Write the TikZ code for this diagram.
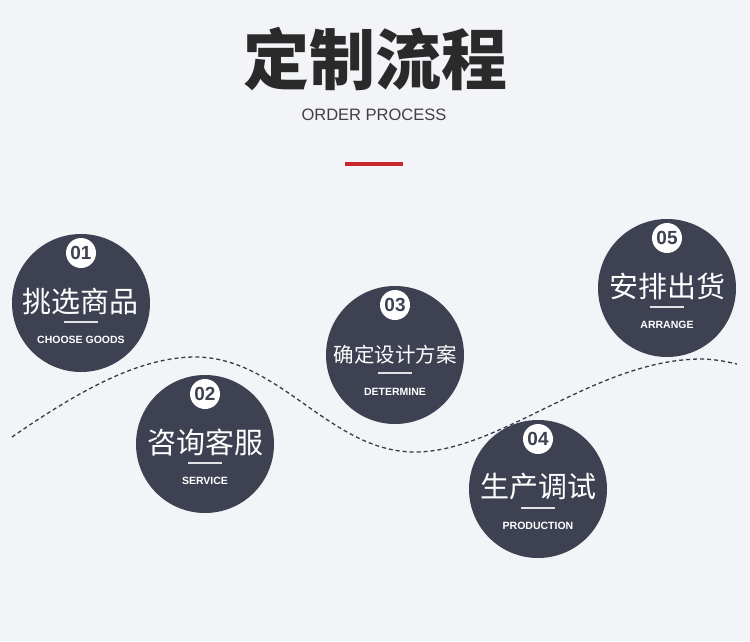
\documentclass[tikz,border=0pt]{standalone}
\usepackage{fontspec}
\setmainfont{Liberation Sans}
\newfontfamily\cjk{Noto Sans CJK SC}
\usepackage{tikz}
\usetikzlibrary{calc}
\definecolor{paper}{HTML}{F3F4F7}
\definecolor{slate}{HTML}{3D4152}
\definecolor{ink}{HTML}{2A2A2A}
\definecolor{accent}{HTML}{C8282B}
\tikzset{disc/.style={circle,fill=slate,minimum size=138pt,inner sep=0pt}}
\tikzset{badge/.style={circle,fill=white,text=slate,minimum size=30pt,inner sep=0pt,font=\fontsize{19}{19}\selectfont\bfseries}}
\tikzset{zh/.style={text=white,inner sep=0pt,font=\cjk\fontsize{29}{29}\selectfont}}
\tikzset{zhs/.style={text=white,inner sep=0pt,font=\cjk\fontsize{20.5}{20.5}\selectfont}}
\tikzset{en/.style={text=white,inner sep=0pt,font=\fontsize{10.5}{10.5}\selectfont\bfseries}}
\tikzset{rule/.style={draw=white!85!slate,line width=1.2pt}}
\tikzset{trail/.style={draw=slate!90!black,line width=1.3pt,dash pattern=on 4pt off 3pt}}

\begin{document}
\begin{tikzpicture}[x=1pt,y=-1pt]
          \useasboundingbox (0,0) rectangle (750,641);
          \fill[paper] (0,0) rectangle (750,641);
          % heading
          \node[inner sep=0pt,text=ink,font=\cjk\bfseries\fontsize{66}{66}\selectfont] (title) at (375,59) {定制流程};
          \node[inner sep=0pt,text=ink!90,font=\fontsize{16.5}{16.5}\selectfont] (sub) at (374,115) {ORDER PROCESS};
          \fill[accent] (345,162) rectangle (403,166);
          % dashed path behind the steps
          \draw[trail] (12,437) .. controls (80,390) and (140,357) .. (195,357)
            .. controls (280,357) and (330,452) .. (415,452)
            .. controls (500,452) and (595,360) .. (700,359)
            .. controls (715,359) and (728,362) .. (737,364);
          % steps
          \node[disc] (c1) at (81,303) {};
          \node[badge] (n1) at ($(c1)+(0,-50)$) {01};
          \node[zh] (t1) at ($(c1)+(0,-2)$) {挑选商品};
          \draw[rule] ($(c1)+(-17,19)$) -- ($(c1)+(17,19)$);
          \node[en] (e1) at ($(c1)+(0,37)$) {CHOOSE GOODS};
          \node[disc] (c2) at (205,444) {};
          \node[badge] (n2) at ($(c2)+(0,-50)$) {02};
          \node[zh] (t2) at ($(c2)+(0,-2)$) {咨询客服};
          \draw[rule] ($(c2)+(-17,19)$) -- ($(c2)+(17,19)$);
          \node[en] (e2) at ($(c2)+(0,37)$) {SERVICE};
          \node[disc] (c3) at (395,355) {};
          \node[badge] (n3) at ($(c3)+(0,-50)$) {03};
          \node[zhs] (t3) at ($(c3)+(0,0)$) {确定设计方案};
          \draw[rule] ($(c3)+(-17,18)$) -- ($(c3)+(17,18)$);
          \node[en] (e3) at ($(c3)+(0,37)$) {DETERMINE};
          \node[disc] (c4) at (538,489) {};
          \node[badge] (n4) at ($(c4)+(0,-50)$) {04};
          \node[zh] (t4) at ($(c4)+(0,-2)$) {生产调试};
          \draw[rule] ($(c4)+(-17,19)$) -- ($(c4)+(17,19)$);
          \node[en] (e4) at ($(c4)+(0,37)$) {PRODUCTION};
          \node[disc] (c5) at (667,288) {};
          \node[badge] (n5) at ($(c5)+(0,-50)$) {05};
          \node[zh] (t5) at ($(c5)+(0,-2)$) {安排出货};
          \draw[rule] ($(c5)+(-17,19)$) -- ($(c5)+(17,19)$);
          \node[en] (e5) at ($(c5)+(0,37)$) {ARRANGE};
        \end{tikzpicture}
\end{document}
